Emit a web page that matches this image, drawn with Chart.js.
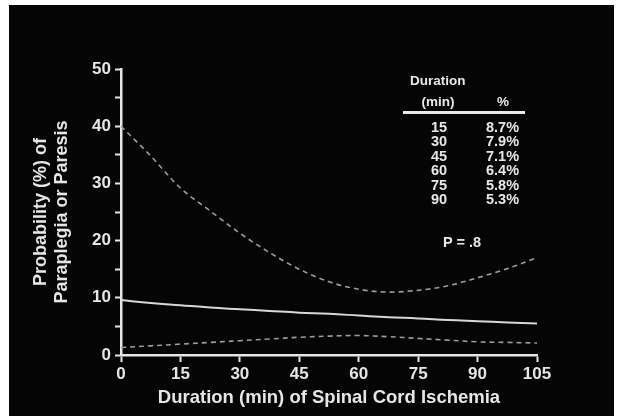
<!DOCTYPE html>
<html>
<head>
<meta charset="utf-8">
<script src="https://cdn.jsdelivr.net/npm/chart.js@4.4.1/dist/chart.umd.min.js"></script>
<style>
  html, body { margin: 0; padding: 0; background: #ffffff; }
  #wrap { position: relative; width: 620px; height: 416px; overflow: hidden; }
  #panel { position: absolute; left: 9px; top: 5px; width: 605px; height: 411px; background: #050505; }
  #c { position: absolute; left: 0; top: 0; }
  .tbl { position: absolute; color: #e8e8e8; font-family: "Liberation Sans", Arial, sans-serif; font-weight: bold; white-space: nowrap; }
  .hd { font-size: 13.5px; }
  .cell { font-size: 14.5px; }
  #rule { position: absolute; left: 403px; top: 111px; width: 122px; height: 3px; background: #e8e8e8; }
</style>
</head>
<body>
<div id="wrap">
  <div id="panel"></div>
  <canvas id="c" width="620" height="416"></canvas>
  <div id="rule"></div>
</div>
<script>
// ---- data ----
const xValues = [0, 7.5, 15, 22.5, 30, 37.5, 45, 52.5, 60, 67.5, 75, 82.5, 90, 97.5, 105];
const upperCI = [40.0, 34.8, 29.2, 25.2, 21.3, 17.9, 15.0, 12.8, 11.5, 11.0, 11.3, 12.1, 13.5, 15.1, 17.0];
const estimate = [9.6, 9.1, 8.7, 8.3, 8.0, 7.7, 7.4, 7.2, 6.9, 6.6, 6.4, 6.1, 5.9, 5.7, 5.5];
const lowerCI = [1.3, 1.6, 1.9, 2.2, 2.5, 2.8, 3.1, 3.3, 3.4, 3.2, 2.9, 2.6, 2.3, 2.2, 2.1];
const xTicks = [0, 15, 30, 45, 60, 75, 90, 105];
const yTickLabels = [0, 10, 20, 30, 40, 50];
const tableDurations = ["15", "30", "45", "60", "75", "90"];
const tablePercents = ["8.7%", "7.9%", "7.1%", "6.4%", "5.8%", "5.3%"];
const tableHeader = ["Duration", "(min)", "%"];
const pText = "P = .8";
const xTitle = "Duration (min) of Spinal Cord Ischemia";
const yTitle = ["Probability (%) of", "Paraplegia or Paresis"];

const pts = arr => arr.map((v, i) => ({ x: xValues[i], y: v }));
const FONT = "'Liberation Sans', Arial, sans-serif";
const AX = '#e6e6e6';

new Chart(document.getElementById('c'), {
  type: 'line',
  data: {
    datasets: [
      { data: pts(upperCI), borderColor: '#9c9c9c', borderWidth: 1.6, borderDash: [5, 4], pointRadius: 0, tension: 0.4, cubicInterpolationMode: 'monotone' },
      { data: pts(estimate), borderColor: '#d8d8d8', borderWidth: 2, pointRadius: 0, tension: 0.4 },
      { data: pts(lowerCI), borderColor: '#9c9c9c', borderWidth: 1.6, borderDash: [5, 4], pointRadius: 0, tension: 0.4 }
    ]
  },
  options: {
    responsive: false,
    animation: false,
    events: [],
    layout: { padding: { left: 9, top: 69, right: 83, bottom: 0 } },
    plugins: { legend: { display: false }, tooltip: { enabled: false } },
    scales: {
      x: {
        type: 'linear', min: 0, max: 105,
        afterBuildTicks: s => { s.ticks = xTicks.map(v => ({ value: v })); },
        afterFit: s => { s.height = 61; },
        border: { display: true, color: AX, width: 2.5 },
        grid: { drawOnChartArea: false, drawTicks: true, tickLength: 7, tickWidth: 2, color: AX },
        ticks: { color: AX, padding: 2, font: { family: FONT, size: 17, weight: 'bold' } },
        title: { display: true, text: xTitle, color: AX, padding: { top: 0, bottom: 7 }, font: { family: FONT, size: 18.5, weight: 'bold' } }
      },
      y: {
        type: 'linear', min: 0, max: 50,
        afterBuildTicks: s => { const t = []; for (let v = 0; v <= 50; v += 5) t.push({ value: v }); s.ticks = t; },
        afterFit: s => { s.width = 112; },
        border: { display: true, color: AX, width: 2.5 },
        grid: { drawOnChartArea: false, drawTicks: true, tickLength: 6, tickWidth: 2, color: AX },
        ticks: { color: AX, padding: 4, autoSkip: false,
          callback: v => yTickLabels.includes(v) ? String(v) : '',
          font: { family: FONT, size: 17, weight: 'bold' } },
        title: { display: true, text: yTitle, color: AX, padding: { top: 21, bottom: 0 }, font: { family: FONT, size: 18, weight: 'bold', lineHeight: 1.2 } }
      }
    }
  }
});

// ---- inset table (HTML text) ----
const wrap = document.getElementById('wrap');
function addText(txt, cls, cx, cy, align) {
  const d = document.createElement('div');
  d.className = 'tbl ' + cls;
  d.textContent = txt;
  wrap.appendChild(d);
  const w = d.offsetWidth, h = d.offsetHeight;
  let left = cx - w / 2;
  if (align === 'right') left = cx - w;
  d.style.left = left + 'px';
  d.style.top = (cy - h / 2) + 'px';
}
addText(tableHeader[0], 'hd', 438, 80, 'center');
addText(tableHeader[1], 'hd', 438, 101, 'center');
addText(tableHeader[2], 'hd', 503, 101, 'center');
const rowY = [127, 141, 156, 170, 185, 199];
tableDurations.forEach((t, i) => addText(t, 'cell', 439, rowY[i], 'center'));
tablePercents.forEach((t, i) => addText(t, 'cell', 519, rowY[i], 'right'));
addText(pText, 'cell', 462, 242, 'center');
</script>
</body>
</html>
